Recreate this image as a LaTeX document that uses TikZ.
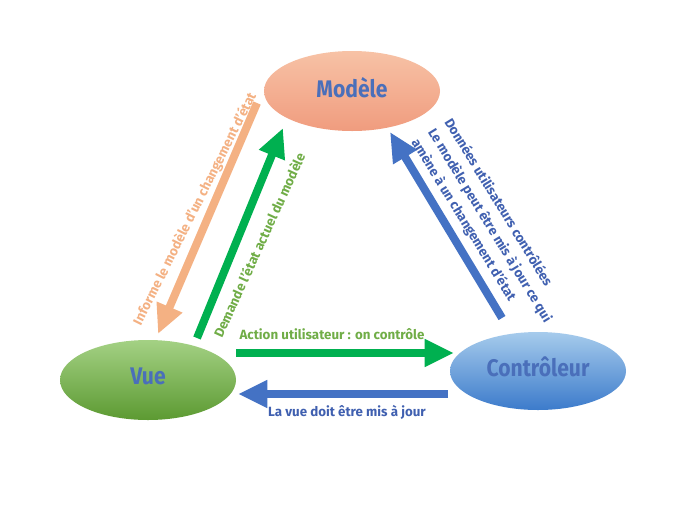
\documentclass[tikz,border=0pt]{standalone}
\usepackage{fontspec}
\setmainfont{Fira Sans}
\newfontfamily\ellfont{Fira Sans}[FakeStretch=0.88]
\usetikzlibrary{arrows.meta,shapes.geometric}
\definecolor{txtblue}{HTML}{4A6FBA}
\definecolor{arrblue}{HTML}{4472C4}
\definecolor{arrgreen}{HTML}{00B050}
\definecolor{labgreen}{HTML}{70AD47}
\definecolor{arrorange}{HTML}{F4B183}
\definecolor{labblue}{HTML}{4060B0}
\definecolor{modtop}{HTML}{F7C2A6}
\definecolor{modbot}{HTML}{F09C7E}
\definecolor{vuetop}{HTML}{A4D184}
\definecolor{vuebot}{HTML}{5C9A32}
\definecolor{contop}{HTML}{A6CBEC}
\definecolor{conbot}{HTML}{3C7BCB}
\begin{document}
\begin{tikzpicture}[x=0.75pt,y=-0.75pt,
  ell/.style={ellipse, minimum width=132pt, minimum height=60pt, inner sep=0pt,
    text depth=6pt,
    font=\ellfont\bfseries\fontsize{18}{20}\selectfont, text=txtblue, shading=axis},
  bigarrow/.style={line width=6pt, -{Triangle[length=22pt,width=19.5pt]}},
  lab/.style={font=\bfseries\fontsize{10}{14.5}\selectfont, inner sep=0pt}
]
\useasboundingbox (0,0) rectangle (678,508);
\fill[white] (0,0) rectangle (678,508);

% ellipses
\node[ell, top color=modtop, bottom color=modbot] (mod) at (352,91) {Modèle};
\node[ell, top color=vuetop, bottom color=vuebot] (vue) at (148,380) {Vue};
\node[ell, top color=contop, bottom color=conbot, minimum height=58.5pt] (con) at (538,371) {Contrôleur};

% arrow end points
\coordinate (oA) at (257,103);
\coordinate (oB) at (158,334);
\coordinate (gA) at (197,338);
\coordinate (gB) at (283,128);
\coordinate (bA) at (502,318);
\coordinate (bB) at (390,132);
\coordinate (hA) at (236,353);
\coordinate (hB) at (454,353);
\coordinate (lA) at (448,394);
\coordinate (lB) at (238,394);

\draw[bigarrow, arrorange] (oA) -- (oB);
\draw[bigarrow, arrgreen] (gA) -- (gB);
\draw[bigarrow, arrblue] (bA) -- (bB);
\draw[bigarrow, arrgreen] (hA) -- (hB);
\draw[bigarrow, arrblue] (lA) -- (lB);

% labels
\node[lab, text=arrorange, rotate=63.4] (tinf) at (195,209) {Informe le modèle d'un changement d'état};
\node[lab, text=labgreen, rotate=65.4] (tdem) at (259,245) {Demande l'état actuel du modèle};
\node[lab, text=labgreen] (tact) at (332,334) {Action utilisateur : on contrôle};
\node[lab, text=labblue] (tvue) at (347,412) {La vue doit être mis à jour};
\node[lab, text=labblue, rotate=-58.5, align=left, anchor=west] (tdon) at (431,130)
  {Données utilisateurs contrôlées\\Le modèle peut être mis à jour ce qui\\amène à un changement d'état};
\end{tikzpicture}
\end{document}
